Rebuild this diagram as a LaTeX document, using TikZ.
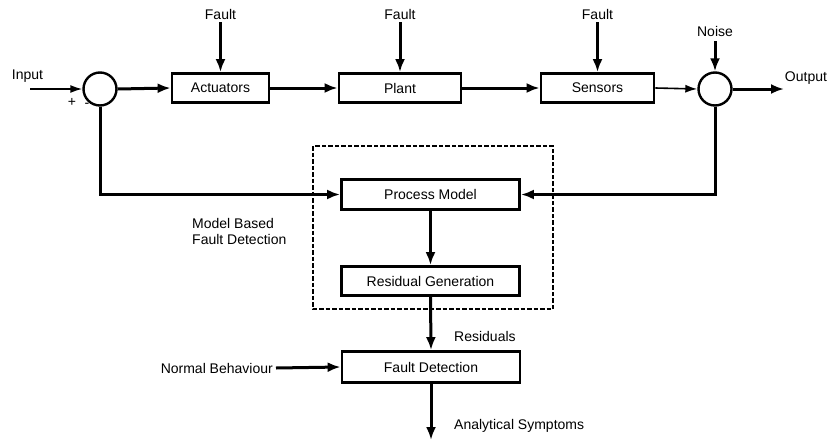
\documentclass[tikz,border=0pt]{standalone}
\usepackage{fontspec}
\setmainfont{Liberation Sans}
\usetikzlibrary{arrows.meta}
\begin{document}
\begin{tikzpicture}[x=1pt,y=-1pt,
  font=\fontsize{14}{16}\selectfont,
  blk/.style={draw, line width=2.8pt, minimum height=29pt, inner sep=0pt},
  sumpt/.style={draw, circle, line width=2.4pt, minimum size=33pt, inner sep=0pt},
  thickarr/.style={line width=3pt, arrows={-Latex[length=13pt,width=10pt]}},
  thinarr/.style={line width=1.6pt, arrows={-Latex[length=12pt,width=8pt]}},
  lbl/.style={inner sep=0pt}
]
\useasboundingbox (0,0) rectangle (830,442);

% forward path
\node[sumpt] (s1) at (100,89) {};
\node[blk, minimum width=97pt] (act) at (220.5,88) {Actuators};
\node[blk, minimum width=122pt] (plant) at (400,88) {Plant};
\node[blk, minimum width=113pt] (sens) at (597.5,88) {Sensors};
\node[sumpt] (s2) at (715,89) {};

\node[lbl] (inlbl) at (27.5,76) {Input};
\coordinate (inp) at (30,89);
\node[lbl] (outlbl) at (806,78) {Output};
\coordinate (outp) at (784,89);
\node[lbl] (plus) at (72,102) {+};
\node[lbl] (minus) at (87,105) {-};

\draw[thinarr] (inp) -- (s1.west);
\draw[thickarr] (s1.east) -- (act.west);
\draw[thickarr] (act.east) -- (plant.west);
\draw[thickarr] (plant.east) -- (sens.west);
\draw[thinarr] (sens.east) -- (s2.west);
\draw[thickarr] (s2.east) -- (outp);

% disturbances
\foreach \nm/\x in {fa/220.5, fp/400, fs/597.5}{
  \node[lbl] (\nm lbl) at (\x,14) {Fault};
  \coordinate (\nm) at (\x,22);
}
\draw[thickarr] (fa) -- (act.north);
\draw[thickarr] (fp) -- (plant.north);
\draw[thickarr] (fs) -- (sens.north);
\node[lbl] (noiselbl) at (715,31) {Noise};
\coordinate (noise) at (715,41);
\draw[thickarr] (noise) -- (s2.north);

% model based fault detection
\draw[line width=1.7pt, dash pattern=on 4.5pt off 2pt] (313,146) rectangle (553,309);
\node[blk, minimum width=178pt, minimum height=30pt] (pm) at (430.5,194.5) {Process Model};
\node[blk, minimum width=178pt] (rg) at (430.5,281) {Residual Generation};
\node[blk, minimum width=178pt, minimum height=31pt] (fd) at (431,367) {Fault Detection};
\node[lbl, align=left, anchor=west] (mbfd) at (192,231) {Model Based\\Fault Detection};

\draw[thickarr] (s1.south) |- (pm.west);
\draw[thickarr] (s2.south) |- (pm.east);
\draw[thickarr] (pm.south) -- (rg.north);
\draw[thickarr] (rg.south) -- (fd.north);

\node[lbl, anchor=west] (res) at (454,336) {Residuals};
\node[lbl, anchor=east] (nb) at (273,368) {Normal Behaviour};
\draw[thickarr] ([xshift=3pt]nb.east) -- (fd.west);
\coordinate (sym) at (431,440);
\draw[thickarr] (fd.south) -- (sym);
\node[lbl, anchor=west] (symlbl) at (454,426) {Analytical Symptoms};
\end{tikzpicture}
\end{document}
